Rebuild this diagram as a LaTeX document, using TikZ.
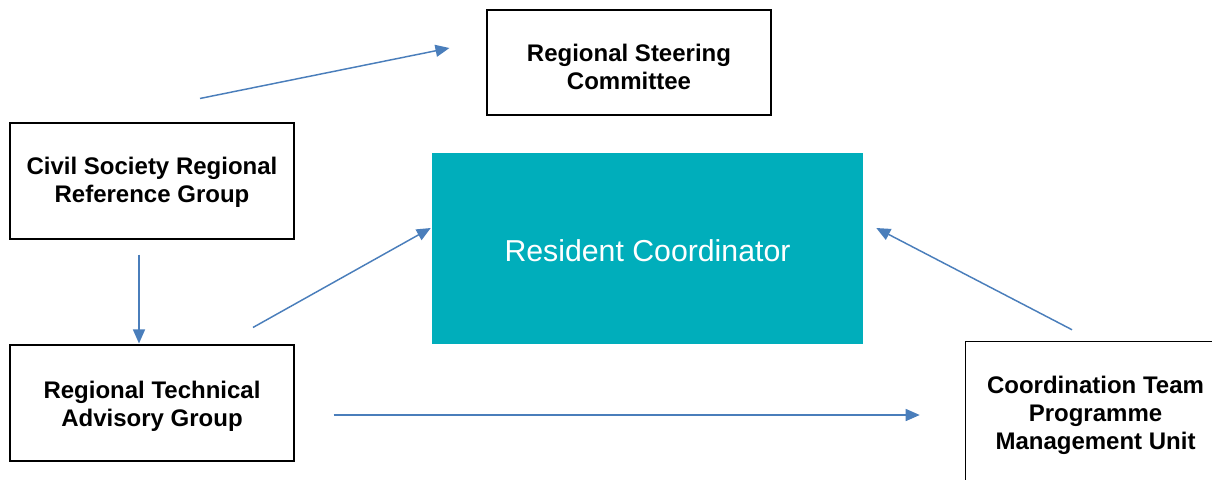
\documentclass[tikz,border=0pt]{standalone}
\usepackage{fontspec}
\setmainfont{Liberation Sans}
\usetikzlibrary{arrows.meta,calc}
\definecolor{rcteal}{HTML}{00AEBB}
\definecolor{arrblue}{HTML}{4A7EBB}
\begin{document}
\begin{tikzpicture}[x=0.75pt,y=-0.75pt,
  box/.style={draw=black, line width=0.8pt, fill=white, inner sep=0pt},
  openbox/.style={draw=none, fill=white, inner sep=0pt},
  edge/.style={draw=black, line width=0.8pt},
  boxtext/.style={align=center, font=\fontsize{18}{21}\selectfont\bfseries, inner sep=0pt},
  rcbox/.style={fill=rcteal, draw=none, inner sep=0pt},
  rctext/.style={text=white, align=center, font=\fontsize{22.7}{26}\selectfont, inner sep=0pt},
  conn/.style={draw=arrblue, line width=1.1pt, -{Triangle[length=10.5pt,width=9pt]}}]
\useasboundingbox (0,0) rectangle (1212,479);
\begin{scope}
\clip (0,0) rectangle (1212,479);

\node[box, minimum width=213pt, minimum height=78.75pt] (steer) at (629,62.5) {};
\node[boxtext] (steertext) at ($(steer.center)+(0,4.5)$) {Regional Steering\\Committee};
\node[box, minimum width=213pt, minimum height=87pt] (civil) at (152,181) {};
\node[boxtext] (civiltext) at ($(civil.center)+(0,1.5)$) {Civil Society Regional\\Reference Group};
\node[box, minimum width=213pt, minimum height=87pt] (rtag) at (152,403) {};
\node[boxtext] (rtagtext) at ($(rtag.center)+(0,3)$) {Regional Technical\\Advisory Group};
\node[rcbox, minimum width=323.25pt, minimum height=143.25pt] (rc) at (647.5,248.5) {};
\node[rctext] (rctxt) at ($(rc.center)+(0,2)$) {Resident Coordinator};
\node[openbox, minimum width=220.5pt, minimum height=105pt] (coord) at (1113,412) {};
\draw[edge] (coord.south west) |- (coord.north east);
\node[boxtext] (coordtext) at (1095.5,415) {Coordination Team\\Programme\\Management Unit};

\coordinate (a1s) at ($(civil.north)+(48,-24)$);
\coordinate (a1e) at ($(steer.west)+(-37,-14.5)$);
\coordinate (a2s) at ($(civil.south)+(-13,15)$);
\coordinate (a2e) at ($(rtag.north)+(-13,-1)$);
\coordinate (a3s) at ($(rtag.north)+(101,-17)$);
\coordinate (a3e) at ($(rc.west)+(-1,-20.5)$);
\coordinate (a4s) at ($(rtag.east)+(39,12)$);
\coordinate (a4e) at ($(coord.west)+(-46,3)$);
\coordinate (a5s) at ($(coord.north)+(-41,-12)$);
\coordinate (a5e) at ($(rc.east)+(13,-20.5)$);

\draw[conn] (a1s) -- (a1e);
\draw[conn] (a2s) -- (a2e);
\draw[conn] (a3s) -- (a3e);
\draw[conn] (a4s) -- (a4e);
\draw[conn] (a5s) -- (a5e);
\end{scope}
\end{tikzpicture}
\end{document}
